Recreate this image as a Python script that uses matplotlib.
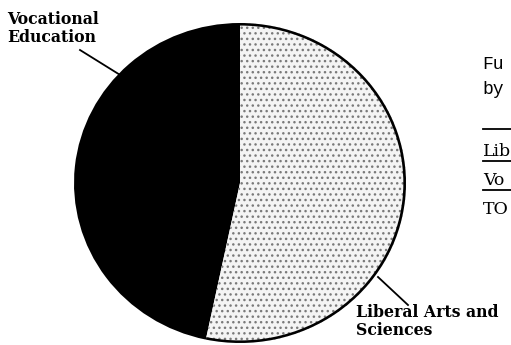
import matplotlib
matplotlib.use("Agg")
import matplotlib.pyplot as plt
from matplotlib.lines import Line2D
from matplotlib.patches import Wedge

# share of each program
programs = ["Vocational\nEducation", "Liberal Arts and\nSciences"]
shares = [46.7, 53.3]
colors = ["black", "white"]

# partial table text at the right margin
side_title = ["Fu", "by"]
side_rows = ["Lib", "Vo", "TO"]

W, H = 511, 345


def fx(px):
    return px / W


def fy(py):
    return 1 - py / H


fig = plt.figure(figsize=(W / 100, H / 100), dpi=100)

# pie slightly wider than tall
cx, cy, rx, ry = 240, 183, 166, 160
ax = fig.add_axes([fx(cx - rx), fy(cy + ry), 2 * rx / W, 2 * ry / H])
wedges, _ = ax.pie(shares, colors=colors, startangle=90, counterclock=True,
                   radius=1, wedgeprops=dict(linewidth=0))
ax.set_aspect("auto")
ax.set_xlim(-1, 1)
ax.set_ylim(-1, 1)

# stippled light slice with black rim
lib = wedges[1]
lib.set_facecolor("#f4f4f4")
lib.set_hatch("...")
lib.set_edgecolor("#7a7a7a")
lib.set_linewidth(0)
rim = Wedge((0, 0), 1, lib.theta1, lib.theta2, width=0.016,
            facecolor="black", edgecolor="none")
ax.add_patch(rim)

label_font = dict(family="DejaVu Serif", weight="bold", fontsize=11.3,
                  color="black", linespacing=1.1)
fig.text(fx(7), fy(11), programs[0], ha="left", va="top", **label_font)
fig.text(fx(356), fy(304), programs[1], ha="left", va="top", **label_font)

fig.add_artist(Line2D([fx(80), fx(125)], [fy(50), fy(78)],
                      transform=fig.transFigure, color="black", lw=1.3))
fig.add_artist(Line2D([fx(378), fx(408)], [fy(277), fy(305)],
                      transform=fig.transFigure, color="black", lw=1.3))

# cut-off title and table on the right
mono = dict(family=["Liberation Mono", "DejaVu Sans Mono"], fontsize=13,
            color="black")
fig.text(fx(482), fy(69), side_title[0], ha="left", va="baseline", **mono)
fig.text(fx(482), fy(94), side_title[1], ha="left", va="baseline", **mono)

serif = dict(family="DejaVu Serif", fontsize=12.5, color="black")
for i, row in enumerate(side_rows):
    fig.text(fx(483), fy(156 + i * 29), row, ha="left", va="baseline", **serif)
for yy in [129, 161, 190]:
    fig.add_artist(Line2D([fx(483), fx(511)], [fy(yy), fy(yy)],
                          transform=fig.transFigure, color="black", lw=1.3))

fig.savefig("out.png", dpi=100)
